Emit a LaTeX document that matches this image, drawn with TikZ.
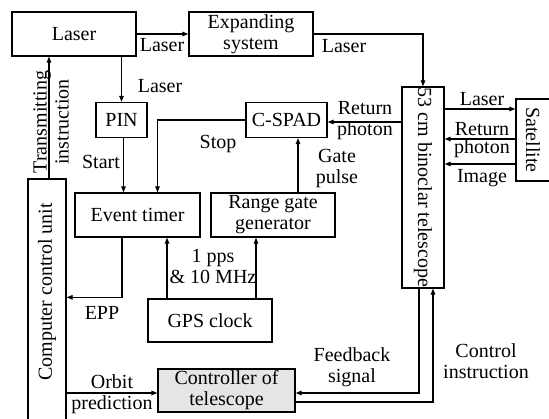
\documentclass[tikz,border=0pt]{standalone}
\usepackage{fontspec}
\setmainfont{Liberation Serif}
\usetikzlibrary{arrows.meta,calc}
\begin{document}
\begin{tikzpicture}[x=1pt,y=-1pt,line width=1.2pt,
  txt/.style={font=\fontsize{20}{21}\selectfont},
  box/.style={draw,line width=1.3pt,inner sep=0pt,align=center,txt,minimum width=#1},
  box/.default=124pt,
  lab/.style={inner sep=0pt,align=center,txt},
  arr/.style={-{Triangle[length=6pt,width=4.5pt]}}]
\useasboundingbox (0,0) rectangle (549,419);
\clip (0,0) rectangle (549,419);
% boxes
\node[box,minimum height=44pt] (laser) at (74,34) {Laser};
\node[box,minimum height=44pt] (exp) at (251,34) {Expanding\\system};
\node[box=42pt,minimum height=201pt] (tel) at (423,187.5) {};
\node[lab,rotate=-90] (teltext) at (tel.center) {53 cm binoclar telescope};
\node[box=35pt,minimum height=82pt] (sat) at (533.5,140) {};
\node[lab,rotate=-90] (sattext) at (533,140) {Satellite};
\node[box=51pt,minimum height=35pt] (pin) at (121.5,120) {PIN};
\node[box=81pt,minimum height=35pt] (cspad) at (286.5,120) {C-SPAD};
\node[box=125pt,minimum height=44pt] (timer) at (137.5,215) {Event timer};
\node[box=124pt,minimum height=44pt] (range) at (273,215) {Range gate\\generator};
\node[box=124pt,minimum height=43pt] (gps) at (210,320.5) {GPS clock};
\node[box=38pt,minimum height=251pt] (comp) at (47,304.5) {};
\node[lab,rotate=90] (comptext) at (47,292) {Computer control unit};
\node[box=137pt,minimum height=43pt,fill=gray!20] (ctrl) at (226.5,390.5) {Controller of\\telescope};
% helper points
\coordinate (pinS) at ($(pin.south)+(2,0)$);
\coordinate (stopC) at ($(timer.north)+(20,0)$);
\coordinate (rpA) at ($(cspad.east)+(0,2)$);
\coordinate (gateA) at ($(range.north)+(25,0)$);
\coordinate (eppA) at ($(timer.south)+(-15.5,0)$);
\coordinate (eppB) at (eppA |- gps.north);
\coordinate (eppC) at ($(eppB)+(0,-1)$);
\coordinate (gpsA) at ($(gps.north)+(-43,0)$);
\coordinate (gpsB) at ($(gps.north)+(46,0)$);
\coordinate (tiA) at ($(comp.north)+(2,0)$);
\coordinate (orbB) at ($(ctrl.west)+(0,2.5)$);
\coordinate (fbA) at ($(tel.south)+(-4,0)$);
\coordinate (fbB) at ($(ctrl.east)+(0,2.5)$);
\coordinate (ciA) at ($(ctrl.east)+(0,11.5)$);
\coordinate (ciB) at ($(tel.south)+(10,0)$);
\coordinate (sL) at ($(sat.west)+(0,-31)$);
\coordinate (sR) at ($(sat.west)+(0,-1)$);
\coordinate (sI) at ($(sat.west)+(0,24)$);
% connectors
\draw[arr] (laser.east) -- (exp.west);
\draw[arr] (exp.east) -| (tel.north);
\draw[arr] (laser.south -| pin.north) -- (pin.north);
\draw[arr] (pinS) -- (pinS |- timer.north);
\draw[arr] (cspad.west) -| (stopC);
\draw[arr] (tel.west |- rpA) -- (rpA);
\draw[arr] (gateA) -- (gateA |- cspad.south);
\draw[arr] (eppA) |- (comp.east |- eppC);
\draw[arr] (gpsA) -- (gpsA |- timer.south);
\draw[arr] (gpsB) -- (gpsB |- range.south);
\draw[arr] (tiA) -- (tiA |- laser.south);
\draw[arr] (comp.east |- orbB) -- (orbB);
\draw[arr] (fbA) |- (fbB);
\draw[arr] (ciA) -| (ciB);
\draw[arr] (tel.east |- sL) -- (sL);
\draw[arr] (sR) -- (tel.east |- sR);
\draw[arr] (sI) -- (tel.east |- sI);
% labels
\node[lab] (l1) at (162,45) {Laser};
\node[lab] (l2) at (344,46) {Laser};
\node[lab] (l3) at (160,86) {Laser};
\node[lab] (l4) at (101,162) {Start};
\node[lab] (l5) at (218,144) {Stop};
\node[lab] (l6) at (365,121) {Return\\photon};
\node[lab] (l7) at (337,169) {Gate\\pulse};
\node[lab] (l8) at (102,313) {EPP};
\node[lab] (l9) at (213,266) {1 pps\\\& 10 MHz};
\node[lab] (l10) at (112,394) {Orbit\\prediction};
\node[lab] (l11) at (352,367) {Feedback\\signal};
\node[lab] (l12) at (486,361) {Control\\instruction};
\node[lab] (l13) at (482,99) {Laser};
\node[lab] (l14) at (482,129) {Return};
\node[lab] (l15) at (482,149) {photon};
\node[lab] (l16) at (482,178) {Image};
\node[lab,rotate=90] (l17) at (51,122) {Transmitting\\[1pt]instruction};
\end{tikzpicture}
\end{document}
